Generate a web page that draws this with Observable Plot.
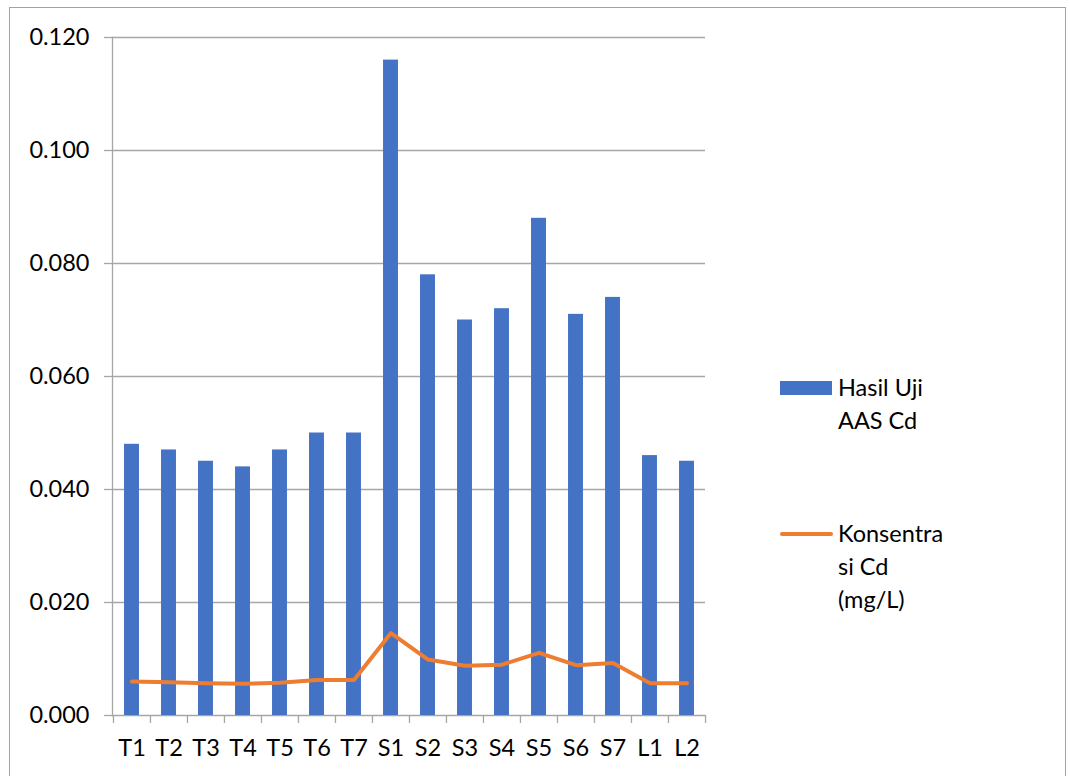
<!DOCTYPE html>
<html>
<head>
<meta charset="utf-8">
<script src="https://cdn.jsdelivr.net/npm/d3@7"></script>
<script src="https://cdn.jsdelivr.net/npm/@observablehq/plot@0.6"></script>
<style>
  html, body { margin: 0; padding: 0; background: #fff; overflow: hidden; }
  #wrap { position: relative; width: 1070px; height: 776px; font-family: Lato, "Open Sans", sans-serif; }
  #border { position: absolute; left: 9px; top: 7px; width: 1057px; height: 800px; border: 1.5px solid #a3a3a3; box-sizing: border-box; }
  #chart { position: absolute; left: 0; top: 0; }
  .legend { position: absolute; font-size: 23.5px; line-height: 33px; color: #000; }
  .swatch { position: absolute; }
</style>
</head>
<body>
<div id="wrap">
  <div id="border"></div>
  <div id="chart"></div>
  <div class="swatch" style="left:780px; top:381px; width:52px; height:14px; background:#4472C4;"></div>
  <div class="legend" style="left:838px; top:371px;">Hasil Uji<br>AAS Cd</div>
  <div class="swatch" style="left:780px; top:532px; width:53px; height:4px; border-radius:2px; background:#ED7D31;"></div>
  <div class="legend" style="left:838px; top:517px;">Konsentra<br>si Cd<br>(mg/L)</div>
</div>
<script>
// Sampling sites
const categories = ["T1", "T2", "T3", "T4", "T5", "T6", "T7", "S1", "S2", "S3", "S4", "S5", "S6", "S7", "L1", "L2"];
// AAS test result for Cd (bars)
const aasCd = [0.048, 0.047, 0.045, 0.044, 0.047, 0.050, 0.050, 0.116, 0.078, 0.070, 0.072, 0.088, 0.071, 0.074, 0.046, 0.045];
// Cd concentration in mg/L (line)
const konsentrasiCd = [0.0060, 0.0059, 0.0057, 0.0056, 0.0058, 0.0063, 0.0063, 0.0146, 0.0099, 0.0088, 0.0090, 0.0111, 0.0089, 0.0093, 0.0057, 0.0057];
// Value axis ticks
const yTicks = [0, 0.02, 0.04, 0.06, 0.08, 0.10, 0.12];

const width = 1070, height = 776;
const marginLeft = 112, marginRight = 365, marginTop = 37, marginBottom = 61;
const bandwidth = (width - marginLeft - marginRight) / categories.length;
const barWidth = 15;
const inset = (bandwidth - barWidth) / 2;
const gridColor = "#a6a6a6";

const chart = Plot.plot({
  width, height, marginLeft, marginRight, marginTop, marginBottom,
  style: { fontFamily: "Lato, 'Open Sans', sans-serif", fontSize: "23.5px", color: "#000", background: "transparent" },
  x: { type: "band", domain: categories, padding: 0, label: null },
  y: { domain: [0, 0.12], label: null },
  marks: [
    Plot.gridY(yTicks, { stroke: gridColor, strokeOpacity: 1, strokeWidth: 1.3 }),
    Plot.barY(aasCd, { x: categories, y: aasCd, fill: "#4472C4", insetLeft: inset, insetRight: inset }),
    Plot.line(konsentrasiCd, { x: categories, y: konsentrasiCd, stroke: "#ED7D31", strokeWidth: 4, strokeLinejoin: "round", strokeLinecap: "round" }),
    Plot.frame({ anchor: "left", stroke: gridColor, strokeWidth: 1.3 }),
    Plot.axisY({ ticks: yTicks, tickFormat: d3.format(".3f"), tickSize: 8, tickPadding: 15, stroke: gridColor, strokeWidth: 1.3, strokeOpacity: 1, label: null }),
    // category labels centred on bands
    Plot.axisX({ tickSize: 0, tickPadding: 24, label: null }),
    // category tick marks on band boundaries
    Plot.axisX({ tickSize: 8, dx: -bandwidth / 2, text: null, stroke: gridColor, strokeWidth: 1.3, strokeOpacity: 1, label: null }),
    Plot.axisX({ ticks: [categories[categories.length - 1]], tickSize: 8, dx: bandwidth / 2, text: null, stroke: gridColor, strokeWidth: 1.3, strokeOpacity: 1, label: null })
  ]
});
document.getElementById("chart").appendChild(chart);
</script>
</body>
</html>
